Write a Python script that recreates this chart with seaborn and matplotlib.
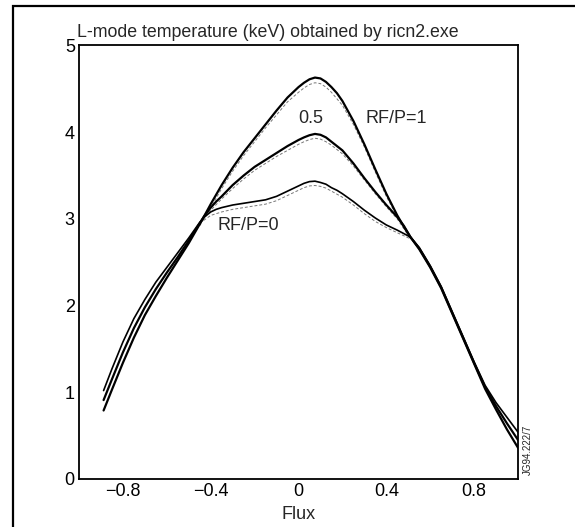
import numpy as np
import pandas as pd
import matplotlib
matplotlib.use("Agg")
import matplotlib.pyplot as plt
import matplotlib.patches as patches
import seaborn as sns

# flux grid shared by the three solid profiles
flux = [-0.888, -0.85, -0.8, -0.75, -0.7, -0.65, -0.6, -0.55, -0.5, -0.45,
        -0.43, -0.4, -0.375, -0.35, -0.3, -0.25, -0.2, -0.15, -0.1, -0.05,
        0.0, 0.025, 0.05, 0.075, 0.1, 0.125, 0.15, 0.175, 0.2, 0.25,
        0.3, 0.35, 0.4, 0.45, 0.48, 0.51, 0.55, 0.6, 0.65, 0.7,
        0.75, 0.8, 0.85, 0.9, 0.95, 1.0]

te_rf0 = [1.02, 1.27, 1.58, 1.85, 2.07, 2.27, 2.44, 2.61, 2.78, 2.96,
          3.02, 3.08, 3.11, 3.13, 3.16, 3.18, 3.20, 3.22, 3.26, 3.32,
          3.38, 3.41, 3.43, 3.435, 3.42, 3.40, 3.36, 3.33, 3.29, 3.20,
          3.10, 3.01, 2.93, 2.87, 2.83, 2.79, 2.67, 2.46, 2.22, 1.93,
          1.64, 1.35, 1.08, 0.88, 0.71, 0.54]

te_rf05 = [0.91, 1.15, 1.46, 1.74, 1.98, 2.19, 2.38, 2.56, 2.75, 2.95,
           3.03, 3.13, 3.20, 3.26, 3.39, 3.50, 3.60, 3.68, 3.76, 3.84,
           3.91, 3.94, 3.965, 3.98, 3.97, 3.94, 3.89, 3.84, 3.79, 3.64,
           3.47, 3.31, 3.16, 3.02, 2.92, 2.79, 2.66, 2.45, 2.21, 1.92,
           1.63, 1.34, 1.06, 0.84, 0.64, 0.45]

te_rf1 = [0.79, 1.03, 1.34, 1.63, 1.89, 2.11, 2.32, 2.52, 2.72, 2.94,
          3.03, 3.17, 3.28, 3.39, 3.59, 3.77, 3.93, 4.09, 4.25, 4.40,
          4.52, 4.57, 4.61, 4.63, 4.62, 4.58, 4.52, 4.45, 4.36, 4.13,
          3.86, 3.57, 3.29, 3.04, 2.91, 2.79, 2.65, 2.44, 2.20, 1.91,
          1.62, 1.33, 1.04, 0.80, 0.57, 0.36]

# thin dashed companions, only distinguishable in the central region
flux_dash = [-0.45, -0.4, -0.35, -0.3, -0.25, -0.2, -0.15, -0.1, -0.05, 0.0,
             0.025, 0.05, 0.075, 0.1, 0.125, 0.15, 0.2, 0.25, 0.3, 0.35,
             0.4, 0.45, 0.51]
dash_rf0 = [2.95, 3.04, 3.08, 3.11, 3.13, 3.15, 3.17, 3.21, 3.27, 3.33,
            3.36, 3.38, 3.385, 3.375, 3.355, 3.32, 3.25, 3.16, 3.06, 2.97,
            2.90, 2.84, 2.77]
dash_rf05 = [2.94, 3.10, 3.23, 3.35, 3.46, 3.56, 3.64, 3.72, 3.79, 3.86,
             3.89, 3.915, 3.93, 3.92, 3.89, 3.85, 3.75, 3.61, 3.45, 3.29,
             3.14, 3.00, 2.77]
dash_rf1 = [2.92, 3.13, 3.35, 3.55, 3.73, 3.89, 4.05, 4.20, 4.35, 4.46,
            4.51, 4.55, 4.57, 4.56, 4.52, 4.46, 4.31, 4.09, 3.83, 3.54,
            3.26, 3.02, 2.77]

cases = ["RF/P=0", "RF/P=0.5", "RF/P=1"]
xticks = [-0.8, -0.4, 0, 0.4, 0.8]
xticklabels = ["\u22120.8", "\u22120.4", "0", "0.4", "0.8"]
yticks = [0, 1, 2, 3, 4, 5]

solid = pd.concat([
    pd.DataFrame({"flux": flux, "te": te_rf0, "case": cases[0]}),
    pd.DataFrame({"flux": flux, "te": te_rf05, "case": cases[1]}),
    pd.DataFrame({"flux": flux, "te": te_rf1, "case": cases[2]}),
])
dashed = pd.concat([
    pd.DataFrame({"flux": flux_dash, "te": dash_rf0, "case": cases[0]}),
    pd.DataFrame({"flux": flux_dash, "te": dash_rf05, "case": cases[1]}),
    pd.DataFrame({"flux": flux_dash, "te": dash_rf1, "case": cases[2]}),
])

sns.set_style("white")
plt.rcParams['font.family'] = ['Liberation Sans', 'DejaVu Sans']

fig = plt.figure(figsize=(5.75, 5.27), dpi=100)
ax = fig.add_axes([0.1374, 0.0911, 0.7635, 0.8226])

sns.lineplot(data=dashed, x="flux", y="te", hue="case", units="case",
             estimator=None, sort=False, legend=False, ax=ax,
             palette=["#777777"] * 3, linewidth=0.7, dashes=False)
for ln in ax.lines:
    ln.set_dashes((3, 2))
sns.lineplot(data=solid, x="flux", y="te", hue="case", units="case",
             estimator=None, sort=False, legend=False, ax=ax,
             palette=["black"] * 3, linewidth=1.6)
for ln in ax.lines[3:4]:
    ln.set_linewidth(1.2)

ax.set_xlim(-1, 1)
ax.set_ylim(0, 5)
ax.set_xticks(xticks)
ax.set_xticklabels(xticklabels)
ax.set_yticks(yticks)
ax.tick_params(direction="in", length=7, width=0.9, labelsize=13, pad=3,
               colors="black")
for s in ax.spines.values():
    s.set_color("black")
    s.set_linewidth(1.3)
ax.set_xlabel("Flux", fontsize=13, labelpad=4)
ax.set_ylabel("")
ax.set_title("L-mode temperature (keV) obtained by ricn2.exe", loc="left",
             fontsize=12.8, pad=6, x=-0.005)

ax.text(0.055, 4.16, "0.5", fontsize=13, ha="center", va="center")
ax.text(0.305, 4.16, "RF/P=1", fontsize=13, ha="left", va="center")
ax.text(-0.37, 2.92, "RF/P=0", fontsize=13, ha="left", va="center")
ax.text(1.012, 0.01, "JG94.222/7", transform=ax.transAxes, rotation=90,
        fontsize=7, ha="left", va="bottom")

# outer border of the scanned figure
fig.patches.append(patches.Rectangle((13 / 575, -0.05), 1.0, 1.05 - 6 / 527,
                                     transform=fig.transFigure, fill=False,
                                     edgecolor="black", linewidth=1.6))

fig.savefig("out.png", dpi=100)
